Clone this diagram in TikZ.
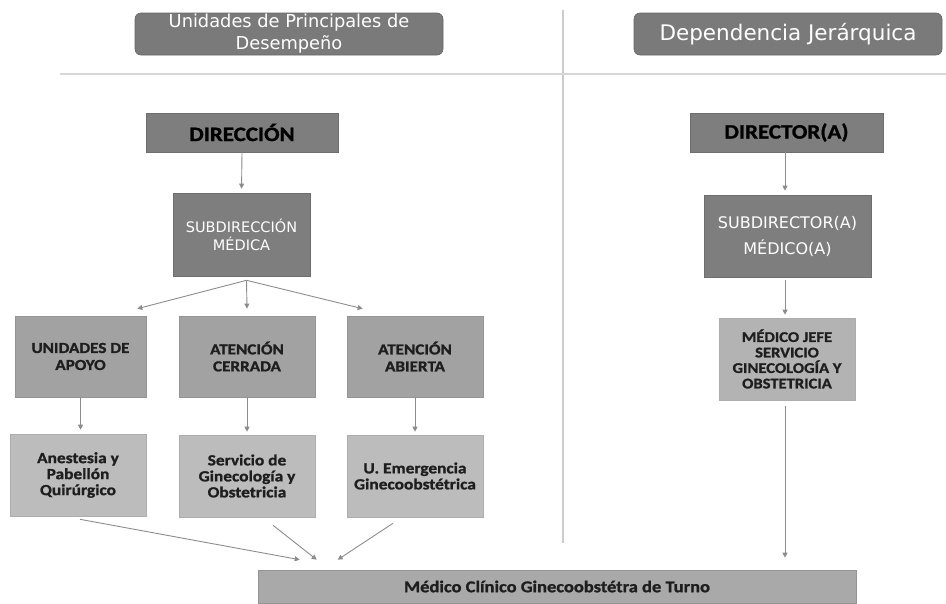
\documentclass[tikz,border=0pt]{standalone}
\usepackage{fontspec}
\setmainfont{Carlito}
\newfontfamily\hdr{DejaVu Sans}
\newfontfamily\bx[FakeStretch=1.12, BoldFeatures={FakeBold=1.2}]{Carlito}
\usetikzlibrary{calc,arrows.meta}
\definecolor{hdrgray}{HTML}{7A7A7A}
\definecolor{hdrline}{HTML}{666666}
\definecolor{boxdark}{HTML}{7E7E7E}
\definecolor{boxdarkline}{HTML}{6E6E6E}
\definecolor{boxmid}{HTML}{A2A2A2}
\definecolor{boxmidline}{HTML}{949494}
\definecolor{boxlight}{HTML}{BCBCBC}
\definecolor{boxlightline}{HTML}{ADADAD}
\definecolor{boxjefe}{HTML}{B3B3B3}
\definecolor{boxbot}{HTML}{A9A9A9}
\definecolor{arrgray}{HTML}{8C8C8C}
\definecolor{sepgray}{HTML}{CCCCCC}
\definecolor{txtdark}{HTML}{1E1E1E}
\begin{document}
\begin{tikzpicture}[x=1pt,y=-1pt,
  box/.style={inner sep=0pt, align=center, line width=0.6pt},
  hdrbox/.style={box, fill=hdrgray, draw=hdrline, rounded corners=6pt, text=white},
  darkbox/.style={box, fill=boxdark, draw=boxdarkline},
  midbox/.style={box, fill=boxmid, draw=boxmidline, text=txtdark,
    font={\bx\bfseries\fontsize{15.3}{17}\selectfont}},
  lightbox/.style={box, fill=boxlight, draw=boxlightline, text=txtdark,
    font={\bx\bfseries\fontsize{15.5}{16}\selectfont}},
  arr/.style={draw=arrgray, line width=0.9pt, -{Triangle[length=5pt,width=5pt]}},
  sep/.style={draw=sepgray, line width=1.2pt}
]
\useasboundingbox (0,0) rectangle (946,603);

% separator lines
\draw[sep] (563,10) -- (563,543);
\draw[draw=sepgray!80, line width=2pt] (60,74) -- (946,74);

% headers
\node[hdrbox, minimum width=308pt, minimum height=42pt,
  font={\hdr\fontsize{17.8}{22}\selectfont}] (hL) at (289,34)
  {Unidades de Principales de\\Desempeño};
\node[hdrbox, minimum width=308pt, minimum height=42pt,
  font={\hdr\fontsize{21.5}{24}\selectfont}] (hR) at (788,34)
  {Dependencia Jerárquica};

% left column
\node[darkbox, minimum width=192pt, minimum height=39pt, text=black,
  font={\bx\bfseries\fontsize{20.5}{24}\selectfont}] (dir) at (242,132.5) {DIRECCIÓN};
\node[darkbox, minimum width=137pt, minimum height=83pt, text=white,
  font={\hdr\fontsize{14.5}{18}\selectfont}] (sub) at (241.5,234.5) {SUBDIRECCIÓN\\MÉDICA};

\node[midbox, minimum width=131pt, minimum height=81pt] (unid) at (80.5,356.5) {UNIDADES DE\\APOYO};
\node[midbox, minimum width=136pt, minimum height=81pt] (cer) at (247,356.5) {ATENCIÓN\\CERRADA};
\node[midbox, minimum width=136pt, minimum height=81pt] (abi) at (415,356.5) {ATENCIÓN\\ABIERTA};

\node[lightbox, minimum width=136pt, minimum height=82pt] (anes) at (78,475) {Anestesia y\\Pabellón\\Quirúrgico};
\node[lightbox, minimum width=136pt, minimum height=82pt] (serv) at (247,476) {Servicio de\\Ginecología y\\Obstetricia};
\node[lightbox, minimum width=136pt, minimum height=82pt] (emer) at (415,476) {U. Emergencia\\Ginecoobstétrica};

% right column
\node[darkbox, minimum width=193pt, minimum height=39pt, text=black,
  font={\bx\bfseries\fontsize{20.5}{24}\selectfont}] (dtor) at (786.5,132.5) {DIRECTOR(A)};
\node[darkbox, minimum width=167pt, minimum height=82pt, text=white,
  font={\hdr\fontsize{16}{26}\selectfont}] (sdtor) at (787.5,236) {SUBDIRECTOR(A)\\MÉDICO(A)};
\node[box, fill=boxjefe, draw=boxlightline, minimum width=136pt, minimum height=82pt, text=txtdark,
  font={\bx\bfseries\fontsize{14.8}{15.5}\selectfont}] (jefe) at (787,359)
  {MÉDICO JEFE\\SERVICIO\\GINECOLOGÍA Y\\OBSTETRICIA};

% bottom
\node[box, fill=boxbot, draw=boxmidline, minimum width=598pt, minimum height=33pt, text=txtdark,
  font={\bx\bfseries\fontsize{16.5}{18}\selectfont}] (bot) at (557,586.5)
  {Médico Clínico Ginecoobstétra de Turno};

% connectors left
\draw[arr, shorten >=4pt] (dir.south) -- (sub.north);
\coordinate (br) at ($(sub.south)+(5,4)$);
\draw[arr] (br) -- ($(unid.north east)+(-9,-7)$);
\draw[arr] (br) -- ($(cer.north)+(0,-7)$);
\draw[arr] (br) -- ($(abi.north west)+(16,-7)$);
\draw[arr, shorten >=4pt] (unid.south) -- (unid.south |- anes.north);
\draw[arr, shorten >=3pt] (cer.south) -- (serv.north);
\draw[arr, shorten >=3pt] (abi.south) -- (emer.north);
\draw[arr] ($(anes.south)+(2,3)$) -- ($(bot.north west)+(42,-10)$);
\draw[arr] ($(serv.south)+(26,8)$) -- ($(bot.north west)+(59,-10)$);
\draw[arr] ($(emer.south)+(-22,6)$) -- ($(bot.north west)+(80,-10)$);

% connectors right
\draw[arr, shorten >=4pt] ($(dtor.south)+(-1.5,0)$) -- ($(sdtor.north)+(-2.5,0)$);
\draw[arr, shorten >=3pt] ($(sdtor.south)+(-2.5,3)$) -- ($(jefe.north)+(-2,0)$);
\draw[arr] ($(jefe.south)+(-2,6)$) -- ($(jefe.south |- bot.north)+(-2,-12)$);
\end{tikzpicture}
\end{document}
